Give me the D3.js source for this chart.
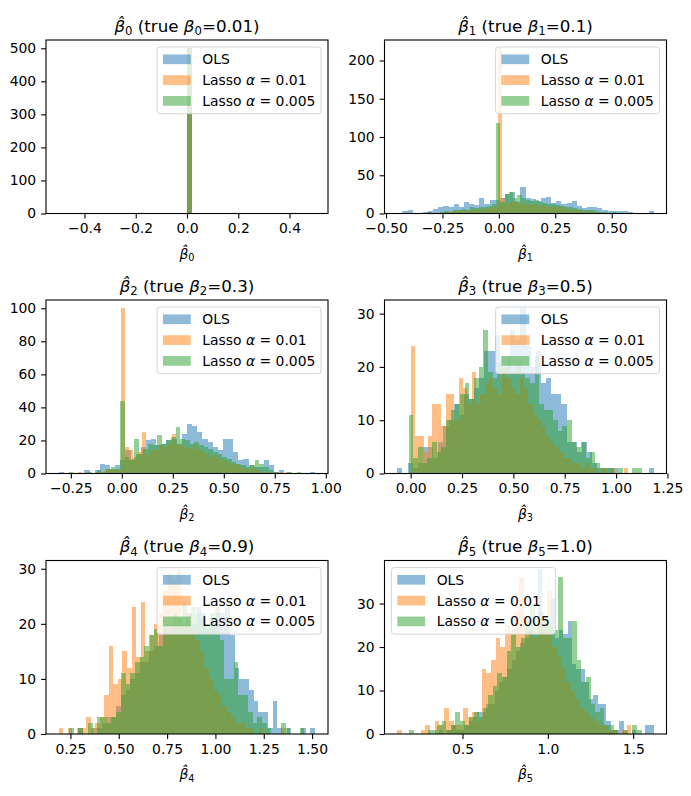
<!DOCTYPE html>
<html><head><meta charset="utf-8">
<script src="https://cdn.jsdelivr.net/npm/d3@7/dist/d3.min.js"></script>
<style>body{margin:0;background:#fff} text{font-family:"DejaVu Sans",sans-serif;fill:#000}</style>
</head><body><svg id="c" width="691" height="796"></svg>
<script>
// ---------------- data ----------------
const seriesNames = ["OLS", "Lasso α = 0.01", "Lasso α = 0.005"];
const seriesColors = ["#1f77b4", "#ff7f0e", "#2ca02c"];
const coefIndex = ["0", "1", "2", "3", "4", "5"];
const trueBeta = ["0.01", "0.1", "0.3", "0.5", "0.9", "1.0"];

// beta0 (all estimates identical -> single bin)
const b0_ols_range = [-0.5, 0.5];
const b0_ols = [0,0,0,0,0,0,0,0,0,0, 0,0,0,0,0,0,0,0,0,0, 0,0,0,0,0,500,0,0,0,0, 0,0,0,0,0,0,0,0,0,0, 0,0,0,0,0,0,0,0,0,0];
const b0_l1_range = [-0.5, 0.5];
const b0_l1 = [0,0,0,0,0,0,0,0,0,0, 0,0,0,0,0,0,0,0,0,0, 0,0,0,0,0,500,0,0,0,0, 0,0,0,0,0,0,0,0,0,0, 0,0,0,0,0,0,0,0,0,0];
const b0_l2_range = [-0.5, 0.5];
const b0_l2 = [0,0,0,0,0,0,0,0,0,0, 0,0,0,0,0,0,0,0,0,0, 0,0,0,0,0,500,0,0,0,0, 0,0,0,0,0,0,0,0,0,0, 0,0,0,0,0,0,0,0,0,0];

// beta1
const b1_ols_range = [-0.45, 0.686];
const b1_ols = [1,3,4,1,1,2,3,6,8,10, 9,12,9,15,13,11,20,13,17,18, 20,25,28,15,35,20,19,16,20,22, 14,16,12,14,16,10,7,9,9,7, 4,3,3,3,3,2,1,1,1,3];
const b1_l1_range = [-0.3226, 0.5624];
const b1_l1 = [1,0,1,1,2,1,3,2,4,3, 5,4,6,5,7,6,8,9,216,20, 12,15,16,14,13,12,11,12,10,11, 9,8,9,10,7,6,5,4,4,3, 3,2,2,1,1,1,0,0,1,0];
const b1_l2_range = [-0.355, 0.595];
const b1_l2 = [1,0,2,1,1,2,3,2,4,5, 6,5,8,7,9,8,10,12,118,15, 26,28,20,24,20,18,16,17,15,14, 13,12,11,10,9,8,7,6,5,4, 4,3,2,2,1,2,1,1,0,1];

// beta2
const b2_ols_range = [-0.309, 0.948];
const b2_ols = [1,0,0,0,0,2,0,2,6,5, 3,5,8,14,9,12,16,20,21,17, 18,20,21,18,24,30,29,25,21,19, 16,14,21,21,13,8,9,5,4,4, 8,5,1,2,0,0,0,0,0,1];
const b2_l1_range = [-0.2138, 0.826];
const b2_l1 = [1,0,0,0,1,0,2,3,2,3, 100,16,14,10,13,25,12,14,15,17, 16,18,24,18,17,16,15,17,14,13, 12,10,11,9,8,7,5,6,4,3, 3,4,2,1,1,1,0,1,0,1];
const b2_l2_range = [-0.26, 0.88];
const b2_l2 = [1,0,0,0,1,0,2,1,3,4, 3,44,10,8,21,12,15,18,17,23, 18,20,22,28,21,20,18,19,17,16, 15,13,12,10,9,7,6,5,4,5, 8,6,4,2,1,0,0,1,0,1];

// beta3
const b3_ols_range = [-0.065, 1.183];
const b3_ols = [1,0,2,1,2,5,5,3,6,9, 10,13,11,15,14,16,18,23,23,26, 22,22,27,25,31,24,20,23,17,18, 15,15,13,6,6,4,6,4,2,1, 1,1,1,0,0,0,0,0,0,1];
const b3_l1_range = [0, 1.06];
const b3_l1 = [24,7,7,4,7,13,13,9,15,15, 10,18,16,13,19,13,15,17,18,16, 15,20,18,16,15,18,16,13,11,10, 9,7,6,5,4,3,3,2,2,1, 2,1,1,0,1,0,1,0,0,1];
const b3_l2_range = [-0.01, 1.125];
const b3_l2 = [11,3,5,2,3,6,4,5,10,12, 13,15,17,14,18,20,27,19,18,21, 20,22,19,21,19,18,17,22,13,12, 12,10,8,9,10,6,5,6,3,4, 2,1,1,1,0,1,0,0,1,1];

// beta4
const b4_ols_range = [0.29, 1.516];
const b4_ols = [1,0,0,1,1,2,3,3,5,7, 8,10,11,13,13,15,16,18,19,20, 20,21,20,22,20,23,22,19,21,22, 22,23,18,12,10,10,8,6,4,4, 1,6,1,0,1,0,0,1,0,1];
const b4_l1_range = [0.19, 1.365];
const b4_l1 = [1,0,1,0,1,1,3,1,2,3, 7,16,9,10,15,12,23,14,24,15, 18,20,22,26,29,28,30,20,22,19, 17,15,12,10,8,7,5,4,3,2, 2,1,1,0,1,0,0,0,0,1];
const b4_l2_range = [0.243, 1.46];
const b4_l2 = [1,0,1,0,2,0,3,3,2,3, 4,11,9,11,13,14,16,18,19,16, 20,19,22,21,24,20,23,22,21,20, 22,23,17,10,10,13,7,7,4,2, 3,2,1,0,0,2,1,0,0,1];

// beta5
const b5_ols_range = [0.36, 1.62];
const b5_ols = [1,0,1,2,1,1,2,3,4,5, 5,7,7,10,12,13,15,17,19,21, 22,24,23,38,25,24,31,22,24,23, 26,16,15,15,12,8,9,7,7,3, 1,1,3,0,0,1,0,0,2,2];
const b5_l1_range = [0.118, 1.49];
const b5_l1 = [1,0,0,0,0,1,2,0,3,2, 6,3,2,2,6,4,5,3,15,14, 17,22,20,25,24,28,36,26,24,22, 25,24,33,20,18,15,12,10,8,6, 5,4,3,2,2,1,1,0,1,2];
const b5_l2_range = [0.186, 1.55];
const b5_l2 = [1,0,0,0,1,1,2,3,1,2, 5,3,2,4,5,4,6,9,11,14, 13,19,23,20,22,26,30,26,28,27, 25,24,36,22,22,26,17,12,13,7, 5,6,2,2,1,0,1,0,2,1];

// tick values and labels
const xt0 = [-0.4, -0.2, 0, 0.2, 0.4],          xl0 = ["−0.4","−0.2","0.0","0.2","0.4"];
const xt1 = [-0.5, -0.25, 0, 0.25, 0.5],        xl1 = ["−0.50","−0.25","0.00","0.25","0.50"];
const xt2 = [-0.25, 0, 0.25, 0.5, 0.75, 1.0],   xl2 = ["−0.25","0.00","0.25","0.50","0.75","1.00"];
const xt3 = [0, 0.25, 0.5, 0.75, 1.0, 1.25],    xl3 = ["0.00","0.25","0.50","0.75","1.00","1.25"];
const xt4 = [0.25, 0.5, 0.75, 1.0, 1.25, 1.5],  xl4 = ["0.25","0.50","0.75","1.00","1.25","1.50"];
const xt5 = [0.5, 1.0, 1.5],                    xl5 = ["0.5","1.0","1.5"];
const yt0 = [0, 100, 200, 300, 400, 500];
const yt1 = [0, 50, 100, 150, 200];
const yt2 = [0, 20, 40, 60, 80, 100];
const yt3 = [0, 10, 20, 30];
const yt4 = [0, 10, 20, 30];
const yt5 = [0, 10, 20, 30];

// ---------------- layout ----------------
const FS = 13.9, TFS = 16.7;
const colX = [46, 384.5], rowY = [40, 300, 560.5];
const AW = 282, AH = 173.5;
const panels = [
  {ranges:[b0_ols_range,b0_l1_range,b0_l2_range], counts:[b0_ols,b0_l1,b0_l2], xt:xt0, xl:xl0, yt:yt0, leg:"right"},
  {ranges:[b1_ols_range,b1_l1_range,b1_l2_range], counts:[b1_ols,b1_l1,b1_l2], xt:xt1, xl:xl1, yt:yt1, leg:"right"},
  {ranges:[b2_ols_range,b2_l1_range,b2_l2_range], counts:[b2_ols,b2_l1,b2_l2], xt:xt2, xl:xl2, yt:yt2, leg:"right"},
  {ranges:[b3_ols_range,b3_l1_range,b3_l2_range], counts:[b3_ols,b3_l1,b3_l2], xt:xt3, xl:xl3, yt:yt3, leg:"right"},
  {ranges:[b4_ols_range,b4_l1_range,b4_l2_range], counts:[b4_ols,b4_l1,b4_l2], xt:xt4, xl:xl4, yt:yt4, leg:"right"},
  {ranges:[b5_ols_range,b5_l1_range,b5_l2_range], counts:[b5_ols,b5_l1,b5_l2], xt:xt5, xl:xl5, yt:yt5, leg:"left"}
];

const svg = d3.select("#c");

function betaHat(textSel, k, size) {
  textSel.append("tspan").attr("font-style","italic").text("β\u0302");
  textSel.append("tspan").attr("font-size", size*0.7).attr("dy", size*0.2).text(k);
}

panels.forEach((p, pi) => {
  const ox = colX[pi % 2], oy = rowY[Math.floor(pi / 2)];
  const g = svg.append("g").attr("transform", `translate(${ox},${oy})`);
  const lo = d3.min(p.ranges, r => r[0]), hi = d3.max(p.ranges, r => r[1]);
  const pad = 0.05 * (hi - lo);
  const x = d3.scaleLinear().domain([lo - pad, hi + pad]).range([0, AW]);
  const ymax = d3.max(p.counts, c => d3.max(c));
  const y = d3.scaleLinear().domain([0, ymax * 1.05]).range([AH, 0]);

  p.counts.forEach((cnt, si) => {
    const r = p.ranges[si], n = cnt.length, w = (r[1] - r[0]) / n;
    const bins = cnt.map((c, i) => ({x0: r[0] + i * w, x1: r[0] + (i + 1) * w, c}));
    g.append("g").attr("opacity", 0.5).attr("fill", seriesColors[si])
      .selectAll("rect").data(bins.filter(b => b.c > 0)).join("rect")
      .attr("shape-rendering", "crispEdges")
      .attr("x", b => x(b.x0)).attr("width", b => x(b.x1) - x(b.x0))
      .attr("y", b => y(b.c)).attr("height", b => y(0) - y(b.c));
  });

  // axes
  const xa = g.append("g").attr("transform", `translate(0,${AH})`)
    .call(d3.axisBottom(x).tickValues(p.xt).tickFormat((d, i) => p.xl[i]).tickSize(4.9).tickPadding(4.9).tickSizeOuter(0));
  const ya = g.append("g")
    .call(d3.axisLeft(y).tickValues(p.yt).tickFormat(d3.format("d")).tickSize(4.9).tickPadding(4.9).tickSizeOuter(0));
  [xa, ya].forEach(a => {
    a.select(".domain").remove();
    a.selectAll("line").attr("stroke", "#000").attr("stroke-width", 1.1);
    a.selectAll("text").attr("font-size", FS).attr("font-family", "DejaVu Sans");
  });
  g.append("rect").attr("width", AW).attr("height", AH)
    .attr("fill", "none").attr("stroke", "#000").attr("stroke-width", 1.1);

  // title
  const t = g.append("text").attr("x", AW / 2).attr("y", -8.3).attr("text-anchor", "middle").attr("font-size", TFS);
  betaHat(t, coefIndex[pi], TFS);
  t.append("tspan").attr("dy", -TFS*0.2).text(" (true ");
  t.append("tspan").attr("font-style","italic").text("β");
  t.append("tspan").attr("font-size", TFS*0.7).attr("dy", TFS*0.2).text(coefIndex[pi]);
  t.append("tspan").attr("dy", -TFS*0.2).text("=" + trueBeta[pi] + ")");

  // x label
  const xlab = g.append("text").attr("x", AW / 2).attr("y", AH + 45).attr("text-anchor", "middle").attr("font-size", FS);
  betaHat(xlab, coefIndex[pi], FS);

  // legend
  const lg = g.append("g");
  const box = lg.append("rect").attr("rx", 2.8).attr("fill", "#fff").attr("fill-opacity", 0.8)
    .attr("stroke", "#cccccc").attr("stroke-opacity", 0.8).attr("stroke-width", 1);
  const rowC = [12.3, 33.1, 53.9];
  let maxW = 0;
  seriesNames.forEach((nm, si) => {
    lg.append("rect").attr("x", 5.8).attr("y", rowC[si] - 4.85).attr("width", 27.8).attr("height", 9.7)
      .attr("fill", seriesColors[si]).attr("fill-opacity", 0.5);
    const tx = lg.append("text").attr("x", 45.2).attr("y", rowC[si] + 5.0).attr("font-size", FS);
    const parts = nm.split("α");
    tx.append("tspan").text(parts[0]);
    if (parts.length > 1) {
      tx.append("tspan").attr("font-style", "italic").text("α");
      tx.append("tspan").text(parts[1]);
    }
    maxW = Math.max(maxW, tx.node().getComputedTextLength());
  });
  const LW = 45.2 + maxW + 5.6, LH = 66.7;
  box.attr("width", LW).attr("height", LH);
  const lx = p.leg === "right" ? AW - 7 - LW : 7;
  lg.attr("transform", `translate(${lx},7)`);
});
</script></body></html>
